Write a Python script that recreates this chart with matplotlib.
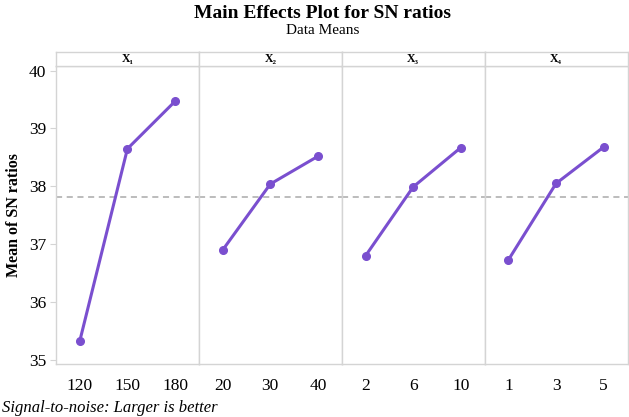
import numpy as np
import matplotlib
matplotlib.use("Agg")
import matplotlib.pyplot as plt

plt.rcParams['font.family'] = ['Liberation Serif', 'DejaVu Serif']

# factor names, levels and mean SN ratios
factors = ["X₁", "X₂", "X₃", "X₄"]
levels = [["120", "150", "180"],
          ["20", "30", "40"],
          ["2", "6", "10"],
          ["1", "3", "5"]]
sn_x1 = [35.33, 38.65, 39.47]
sn_x2 = [36.90, 38.04, 38.52]
sn_x3 = [36.80, 37.99, 38.67]
sn_x4 = [36.73, 38.05, 38.68]
sn_means = [sn_x1, sn_x2, sn_x3, sn_x4]

grand_mean = np.mean(sn_x1)

line_col = "#7a4fcf"
edge_col = "#d4d4d4"

W, H = 629, 417
fig = plt.figure(figsize=(W / 100, H / 100), dpi=100)

left, right = 56 / W, 627.5 / W
bottom, top = 1 - 364 / H, 1 - 66 / H
strip_top = 1 - 52 / H
pw = (right - left) / 4

for i in range(4):
    ax = fig.add_axes([left + i * pw, bottom, pw, top - bottom])
    x = np.arange(len(levels[i]))
    ax.axhline(grand_mean, color="#aaaaaa", lw=1.1, ls=(0, (4, 3)), zorder=1)
    ax.plot(x, sn_means[i], color=line_col, lw=2.2, marker="o", ms=5.5, zorder=3)
    ax.set_xlim(-0.5, 2.5)
    ax.set_ylim(34.93, 40.08)
    ax.set_xticks(x)
    ax.set_xticklabels(levels[i], fontsize=12.5)
    ax.tick_params(axis="x", length=0, pad=10)
    for s in ax.spines.values():
        s.set_color(edge_col)
        s.set_linewidth(1.0)
    if i == 0:
        ax.set_yticks([35, 36, 37, 38, 39, 40])
        ax.tick_params(axis="y", labelsize=12.5, length=4, color=edge_col, pad=3)
        ax.set_ylabel("Mean of SN ratios", fontsize=11.5, fontweight="bold", labelpad=5)
    else:
        ax.set_yticks([])
    # strip with factor name
    sax = fig.add_axes([left + i * pw, top, pw, strip_top - top])
    sax.set_xticks([])
    sax.set_yticks([])
    for s in sax.spines.values():
        s.set_color(edge_col)
        s.set_linewidth(1.0)
    sax.text(0.5, 0.5, factors[i], ha="center", va="center", fontsize=8.5,
             fontweight="bold", transform=sax.transAxes)

fig.text(323 / W, 1 - 14 / H, "Main Effects Plot for SN ratios", ha="center",
         va="center", fontsize=14, fontweight="bold")
fig.text(323 / W, 1 - 31 / H, "Data Means", ha="center", va="center", fontsize=11)
fig.text(2 / W, 1 - 408 / H, "Signal-to-noise: Larger is better", ha="left",
         va="center", fontsize=12, style="italic")

fig.savefig("out.png", dpi=100)
